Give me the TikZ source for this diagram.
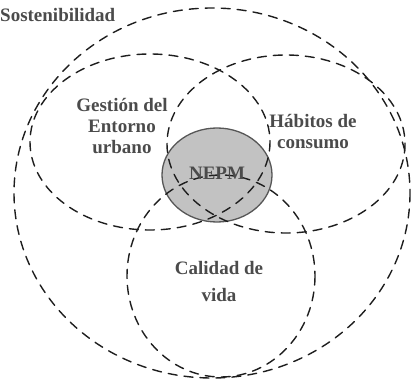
\documentclass[tikz,border=0pt]{standalone}
\usepackage{fontspec}
\setmainfont{Liberation Serif}
\usetikzlibrary{positioning}
\definecolor{ink}{HTML}{1E1E1E}
\definecolor{corecol}{HTML}{9A9A9A}

\begin{document}
\begin{tikzpicture}[x=1pt, y=-1pt, line cap=round, line join=round,
  ring/.style={draw=ink, line width=1.4pt, dash pattern=on 9pt off 7pt},
  lbl/.style={font=\fontsize{19}{21}\selectfont\bfseries, text=ink!80, align=center, inner sep=0pt}]
\useasboundingbox (0,0) rectangle (414,379);

% ==================================================== the shaded core
\fill[corecol, opacity=0.6] (217,175) ellipse (55 and 47);
\draw[ink!75, line width=1.3pt] (217,175) ellipse (55 and 47);

% ==================================================== the rings
\draw[ring] (212,193) ellipse (198 and 185);
\draw[ring] (150,142) ellipse (120 and 88);
\draw[ring] (286,144) ellipse (119 and 89);
\draw[ring] (221,276) ellipse (94 and 101);

% ==================================================== the labels
\node[lbl, anchor=west] (title) at (0,15) {Sostenibilidad};
\node[lbl] (gestion) at (122,126) {Gestión del\\Entorno\\urbano};
\node[lbl] (habitos) at (313,132) {Hábitos de\\consumo};
\node[lbl] (core) at (217,173) {NEPM};
\node[lbl] (vida) at (219,281) {Calidad de\\[6pt]vida};
\end{tikzpicture}
\end{document}
